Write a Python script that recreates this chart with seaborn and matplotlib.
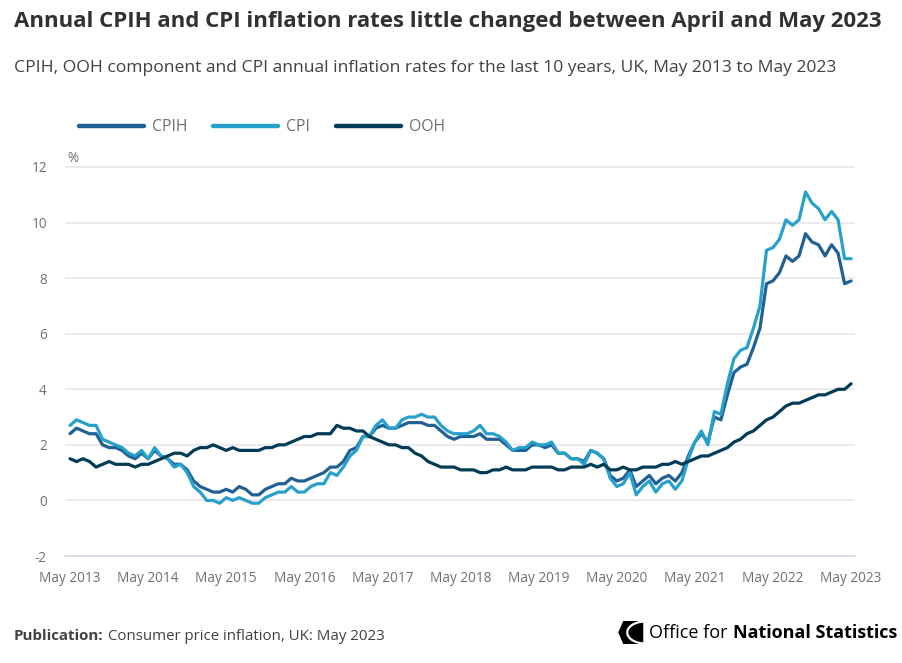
import matplotlib
matplotlib.use("Agg")
import matplotlib.pyplot as plt
import seaborn as sns
import pandas as pd
import numpy as np
from matplotlib.patches import Polygon, Arc

# ---------------- data ----------------
tick_labels = ["May 2013", "May 2014", "May 2015", "May 2016", "May 2017", "May 2018",
               "May 2019", "May 2020", "May 2021", "May 2022", "May 2023"]

cpih = [2.4, 2.6, 2.5, 2.4, 2.4, 2.0, 1.9, 1.9,
        1.8, 1.6, 1.5, 1.7, 1.5, 1.8, 1.6, 1.5, 1.3, 1.3, 1.1, 0.7,
        0.5, 0.4, 0.3, 0.3, 0.4, 0.3, 0.5, 0.4, 0.2, 0.2, 0.4, 0.5,
        0.6, 0.6, 0.8, 0.7, 0.7, 0.8, 0.9, 1.0, 1.2, 1.2, 1.4, 1.8,
        1.9, 2.3, 2.3, 2.6, 2.7, 2.6, 2.6, 2.7, 2.8, 2.8, 2.8, 2.7,
        2.7, 2.5, 2.3, 2.2, 2.3, 2.3, 2.3, 2.4, 2.2, 2.2, 2.2, 2.0,
        1.8, 1.8, 1.8, 2.0, 2.0, 1.9, 2.0, 1.7, 1.7, 1.5, 1.5, 1.4,
        1.8, 1.7, 1.5, 0.9, 0.7, 0.8, 1.1, 0.5, 0.7, 0.9, 0.6, 0.8,
        0.9, 0.7, 1.0, 1.6, 2.1, 2.4, 2.1, 3.0, 2.9, 3.8, 4.6, 4.8,
        4.9, 5.5, 6.2, 7.8, 7.9, 8.2, 8.8, 8.6, 8.8, 9.6, 9.3, 9.2,
        8.8, 9.2, 8.9, 7.8, 7.9]

cpi = [2.7, 2.9, 2.8, 2.7, 2.7, 2.2, 2.1, 2.0,
       1.9, 1.7, 1.6, 1.8, 1.5, 1.9, 1.6, 1.5, 1.2, 1.3, 1.0, 0.5,
       0.3, 0.0, 0.0, -0.1, 0.1, 0.0, 0.1, 0.0, -0.1, -0.1, 0.1, 0.2,
       0.3, 0.3, 0.5, 0.3, 0.3, 0.5, 0.6, 0.6, 1.0, 0.9, 1.2, 1.6,
       1.8, 2.3, 2.3, 2.7, 2.9, 2.6, 2.6, 2.9, 3.0, 3.0, 3.1, 3.0,
       3.0, 2.7, 2.5, 2.4, 2.4, 2.4, 2.5, 2.7, 2.4, 2.4, 2.3, 2.1,
       1.8, 1.9, 1.9, 2.1, 2.0, 2.0, 2.1, 1.7, 1.7, 1.5, 1.5, 1.3,
       1.8, 1.7, 1.5, 0.8, 0.5, 0.6, 1.0, 0.2, 0.5, 0.7, 0.3, 0.6,
       0.7, 0.4, 0.7, 1.5, 2.1, 2.5, 2.0, 3.2, 3.1, 4.2, 5.1, 5.4,
       5.5, 6.2, 7.0, 9.0, 9.1, 9.4, 10.1, 9.9, 10.1, 11.1, 10.7, 10.5,
       10.1, 10.4, 10.1, 8.7, 8.7]

ooh = [1.5, 1.4, 1.5, 1.4, 1.2, 1.3, 1.4, 1.3,
       1.3, 1.3, 1.2, 1.3, 1.3, 1.4, 1.5, 1.6, 1.7, 1.7, 1.6, 1.8,
       1.9, 1.9, 2.0, 1.9, 1.8, 1.9, 1.8, 1.8, 1.8, 1.8, 1.9, 1.9,
       2.0, 2.0, 2.1, 2.2, 2.3, 2.3, 2.4, 2.4, 2.4, 2.7, 2.6, 2.6,
       2.5, 2.5, 2.3, 2.2, 2.1, 2.0, 2.0, 1.9, 1.9, 1.7, 1.6, 1.4,
       1.3, 1.2, 1.2, 1.2, 1.1, 1.1, 1.1, 1.0, 1.0, 1.1, 1.1, 1.2,
       1.1, 1.1, 1.1, 1.2, 1.2, 1.2, 1.2, 1.1, 1.1, 1.2, 1.2, 1.2,
       1.3, 1.2, 1.3, 1.1, 1.1, 1.2, 1.1, 1.1, 1.2, 1.2, 1.2, 1.3,
       1.3, 1.4, 1.3, 1.4, 1.5, 1.6, 1.6, 1.7, 1.8, 1.9, 2.1, 2.2,
       2.4, 2.5, 2.7, 2.9, 3.0, 3.2, 3.4, 3.5, 3.5, 3.6, 3.7, 3.8,
       3.8, 3.9, 4.0, 4.0, 4.2]

series_names = ["CPIH", "CPI", "OOH"]
colors = {"CPIH": "#206095", "CPI": "#27a0cc", "OOH": "#003c57"}

n = len(cpi)
months = np.arange(n)
df = pd.concat([
    pd.DataFrame({"month": months, "value": cpih, "series": "CPIH"}),
    pd.DataFrame({"month": months, "value": cpi, "series": "CPI"}),
    pd.DataFrame({"month": months, "value": ooh, "series": "OOH"}),
])

# ---------------- figure ----------------
sns.set_theme(style="white")
plt.rcParams["font.family"] = ["Open Sans", "DejaVu Sans"]

W, H = 903, 663
fig = plt.figure(figsize=(W / 100, H / 100), dpi=100)

# axes placement in pixels
x0_px, x1_px = 65, 855
ytop_px, ybot_px = 165.6, 556
ax = fig.add_axes([x0_px / W, (H - ybot_px) / H, (x1_px - x0_px) / W, (ybot_px - ytop_px) / H])

sns.lineplot(data=df, x="month", y="value", hue="series", hue_order=series_names,
             palette=colors, linewidth=2.3, ax=ax, legend=True)

ax.set_xlim(-0.77, 120.6)
ax.set_ylim(-2, 12.05)
ax.set_yticks([-2, 0, 2, 4, 6, 8, 10, 12])
ax.set_yticklabels(["-2", "0", "2", "4", "6", "8", "10", "12"])
ax.set_xticks(np.arange(0, n, 12))
ax.set_xticklabels(tick_labels)
ax.set_xlabel("")
ax.set_ylabel("")

for yv in [0, 2, 4, 6, 8, 10, 12]:
    ax.axhline(yv, color="#e5e6ea", linewidth=1.1, zorder=0)

for side in ["top", "right", "left"]:
    ax.spines[side].set_visible(False)
ax.spines["bottom"].set_color("#d3d7e2")
ax.spines["bottom"].set_linewidth(1.2)

ax.tick_params(axis="x", direction="out", length=9, width=1.1, color="#d3d7e2",
               labelsize=9.8, labelcolor="#707071", pad=2)
ax.tick_params(axis="y", length=0, labelsize=9.8, labelcolor="#707071", pad=13)

# legend
handles, labels = ax.get_legend_handles_labels()
ax.legend(handles, labels, ncol=3, frameon=False, loc="center left",
          bbox_to_anchor=(79 / W, 1 - 127 / H), bbox_transform=fig.transFigure,
          borderaxespad=0, borderpad=0,
          handlelength=4.15, handletextpad=0.5, columnspacing=1.65,
          fontsize=11.3, labelcolor="#707071")
for line in ax.get_legend().get_lines():
    line.set_linewidth(3.2)

# % unit label
fig.text(67 / W, 1 - 158 / H, "%", fontsize=9.8, color="#707071", ha="left", va="center")

# title and subtitle
fig.text(14 / W, 1 - 22 / H, "Annual CPIH and CPI inflation rates little changed between April and May 2023",
         fontsize=16.0, fontweight="bold", color="#323132", ha="left", va="center")
fig.text(14 / W, 1 - 68 / H, "CPIH, OOH component and CPI annual inflation rates for the last 10 years, UK, May 2013 to May 2023",
         fontsize=12.6, color="#414042", ha="left", va="center")

# footer: publication
renderer = fig.canvas.get_renderer()
t1 = fig.text(14 / W, 1 - 636 / H, "Publication:", fontsize=10.8, fontweight="bold",
              color="#414042", ha="left", va="center")
bb = t1.get_window_extent(renderer=renderer)
fig.text(bb.x1 / W + 4 / W, 1 - 636 / H, "Consumer price inflation, UK: May 2023",
         fontsize=10.8, color="#414042", ha="left", va="center")

# footer: ONS logo text
t2 = fig.text(897 / W, 1 - 633 / H, "National Statistics", fontsize=13.0, fontweight="bold",
              color="#000000", ha="right", va="center")
bb2 = t2.get_window_extent(renderer=renderer)
t3 = fig.text(bb2.x0 / W - 5 / W, 1 - 633 / H, "Office for", fontsize=13.0,
              color="#000000", ha="right", va="center")
bb3 = t3.get_window_extent(renderer=renderer)

# simple logo mark placed left of the text
lx1 = bb3.x0 - 6          # right edge in display px (from left)
lx0 = lx1 - 25
ly0, ly1 = 621, 644       # top/bottom in px from top


def fxy(px, py):
    return (px / W, 1 - py / H)


logo = Polygon([fxy(lx0 + 5, ly0), fxy(lx1, ly0), fxy(lx1, ly1), fxy(lx0 + 5, ly1), fxy(lx0, (ly0 + ly1) / 2)],
               closed=True, transform=fig.transFigure, facecolor="black", edgecolor="none")
fig.patches.append(logo)
arc = Arc(fxy(lx1 + 2, (ly0 + ly1) / 2), 36 / W, 22 / H, theta1=95, theta2=265,
          transform=fig.transFigure, color="white", linewidth=1.6)
fig.patches.append(arc)

fig.savefig("out.png", dpi=100)
